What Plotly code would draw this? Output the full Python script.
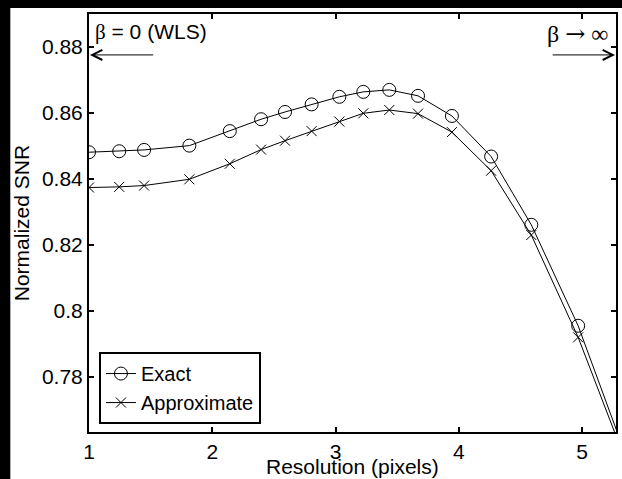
import plotly.graph_objects as go

# Data
resolution = [1.0, 1.245, 1.447, 1.814, 2.142, 2.396, 2.590, 2.806, 3.031, 3.225,
              3.436, 3.669, 3.944, 4.262, 4.588, 4.968, 5.372]
snr_exact = [0.8481, 0.8484, 0.8488, 0.8501, 0.8545, 0.8581, 0.8603, 0.8626, 0.8649,
             0.8664, 0.8670, 0.8652, 0.8591, 0.8468, 0.8261, 0.7955, 0.7544]
snr_approx = [0.8374, 0.8376, 0.8380, 0.8399, 0.8446, 0.8489, 0.8516, 0.8545, 0.8574,
              0.8599, 0.8609, 0.8598, 0.8542, 0.8425, 0.8230, 0.7920, 0.7527]
x_ticks = [1, 2, 3, 4, 5]
y_ticks = [0.78, 0.80, 0.82, 0.84, 0.86, 0.88]
y_tick_labels = ["0.78", "0.8", "0.82", "0.84", "0.86", "0.88"]

SANS = "Liberation Sans, Arial, Helvetica, sans-serif"
SERIF = "Liberation Serif, Times New Roman, serif"
FS = 21

fig = go.Figure()
fig.add_trace(go.Scatter(
    x=resolution, y=snr_exact, mode="lines+markers", name="Exact",
    line=dict(color="black", width=1),
    marker=dict(symbol="circle-open", size=13, color="black", line=dict(width=1)),
))
fig.add_trace(go.Scatter(
    x=resolution, y=snr_approx, mode="lines+markers", name="Approximate",
    line=dict(color="black", width=1),
    marker=dict(symbol="x-thin-open", size=10, color="black", line=dict(width=1)),
))

axis_common = dict(
    showgrid=False, zeroline=False, showline=True, linecolor="black", linewidth=2,
    mirror="ticks", ticks="inside", ticklen=5, tickwidth=2, tickcolor="black",
    tickfont=dict(family=SANS, size=FS, color="black"),
)
fig.update_xaxes(range=[1, 5.275], tickvals=x_ticks, **axis_common)
fig.update_yaxes(range=[0.7633, 0.8900], tickvals=y_ticks, ticktext=y_tick_labels, **axis_common)

# white page area over black frame
fig.add_shape(type="rect", xref="paper", yref="paper", x0=-0.1493, x1=1.05, y0=-0.2, y1=1.0144,
              fillcolor="white", line=dict(width=0), layer="below")

annots = [
    dict(x=0.5, y=-0.0837, xref="paper", yref="paper", text="Resolution (pixels)",
         showarrow=False, xanchor="center", yanchor="middle",
         font=dict(family=SANS, size=FS, color="black")),
    dict(x=-0.1285, y=0.5, xref="paper", yref="paper", text="Normalized SNR",
         showarrow=False, textangle=-90, xanchor="center", yanchor="middle",
         font=dict(family=SANS, size=FS, color="black")),
    dict(x=1.032, y=0.8845, xref="x", yref="y",
         text="<span style='font-family:Liberation Serif'>β</span> = 0 (WLS)",
         showarrow=False, xanchor="left", yanchor="middle",
         font=dict(family=SANS, size=FS, color="black")),
    dict(x=5.226, y=0.8840, xref="x", yref="y",
         text="β <span style='font-family:DejaVu Serif'>→</span> ∞",
         showarrow=False, xanchor="right", yanchor="middle",
         font=dict(family=SERIF, size=FS + 3, color="black")),
    dict(x=1.008, y=0.8776, ax=1.533, ay=0.8776, xref="x", yref="y", axref="x", ayref="y",
         text="", showarrow=True, arrowhead=5, arrowsize=2, arrowwidth=1, arrowcolor="black"),
    dict(x=5.267, y=0.8776, ax=4.749, ay=0.8776, xref="x", yref="y", axref="x", ayref="y",
         text="", showarrow=True, arrowhead=5, arrowsize=2, arrowwidth=1, arrowcolor="black"),
]
fig.update_layout(
    width=622, height=479,
    margin=dict(l=89, r=4, t=14, b=47),
    paper_bgcolor="black", plot_bgcolor="white",
    annotations=annots,
    showlegend=True,
    legend=dict(x=0.0189, y=0.019, xanchor="left", yanchor="bottom",
                bgcolor="white", bordercolor="black", borderwidth=2,
                font=dict(family=SANS, size=20, color="black"),
                tracegroupgap=0, itemsizing="trace"),
)

fig.write_html("out.html")
